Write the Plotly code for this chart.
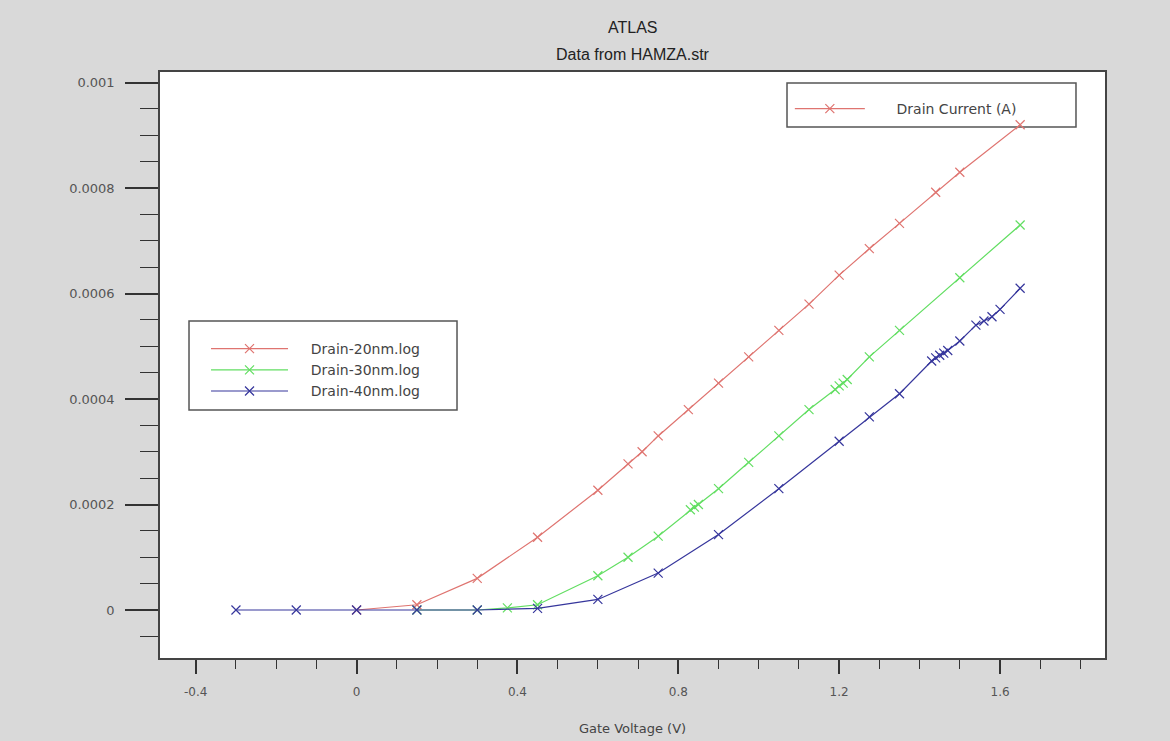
import plotly.graph_objects as go

# ---- data ----
x_20 = [0.0, 0.15, 0.3, 0.45, 0.6, 0.675, 0.71, 0.75, 0.825, 0.9, 0.975, 1.05, 1.125, 1.2, 1.275, 1.35, 1.44, 1.5, 1.65]
y_20 = [0.0, 0.00001, 0.00006, 0.000138, 0.000227, 0.000277, 0.0003, 0.00033, 0.00038, 0.00043, 0.00048,
        0.00053, 0.00058, 0.000635, 0.000685, 0.000733, 0.000792, 0.00083, 0.00092]

x_30 = [0.15, 0.3, 0.375, 0.45, 0.6, 0.675, 0.75, 0.83, 0.84, 0.85, 0.9, 0.975, 1.05, 1.125, 1.19, 1.2, 1.21, 1.22,
        1.275, 1.35, 1.5, 1.65]
y_30 = [0.0, 0.0, 0.000004, 0.00001, 0.000065, 0.0001, 0.00014, 0.00019, 0.000195, 0.0002, 0.00023, 0.00028,
        0.00033, 0.00038, 0.000418, 0.000425, 0.00043, 0.000437, 0.00048, 0.00053, 0.00063, 0.00073]

x_40 = [-0.3, -0.15, 0.0, 0.15, 0.3, 0.45, 0.6, 0.75, 0.9, 1.05, 1.2, 1.275, 1.35, 1.43, 1.44, 1.45, 1.46, 1.47,
        1.5, 1.54, 1.56, 1.58, 1.6, 1.65]
y_40 = [0.0, 0.0, 0.0, 0.0, 0.0, 0.000003, 0.00002, 0.00007, 0.000143, 0.00023, 0.00032, 0.000366, 0.00041,
        0.000472, 0.000478, 0.000483, 0.000487, 0.000492, 0.00051, 0.00054, 0.000548, 0.000556, 0.00057, 0.00061]

series_names = ["Drain-20nm.log", "Drain-30nm.log", "Drain-40nm.log"]
series_colors = ["#df7470", "#62de62", "#36369c"]
legend2_label = "Drain Current (A)"
title_lines = ["ATLAS", "Data from HAMZA.str"]
x_title = "Gate Voltage (V)"

y_tickvals = [0, 0.0002, 0.0004, 0.0006, 0.0008, 0.001]
y_ticktext = ["0", "0.0002", "0.0004", "0.0006", "0.0008", "0.001"]
x_tickvals = [-0.4, 0, 0.4, 0.8, 1.2, 1.6]
x_ticktext = ["-0.4", "0", "0.4", "0.8", "1.2", "1.6"]

SANS = "DejaVu Sans, Verdana, sans-serif"
TITLEF = "Liberation Sans, Arial, sans-serif"
NB = "\u00a0"

fig = go.Figure()
for xs, ys, name, col in zip([x_20, x_30, x_40], [y_20, y_30, y_40], series_names, series_colors):
    fig.add_trace(go.Scatter(
        x=xs, y=ys, name=NB * 4 + name, mode="lines+markers",
        line=dict(color=col, width=1.2),
        marker=dict(symbol="x-thin-open", size=9, line=dict(color=col, width=1.2)),
        legend="legend",
    ))

# legend-only entry for the second legend box
fig.add_trace(go.Scatter(
    x=[None], y=[None], name=NB * 6 + legend2_label,
    mode="lines+markers",
    line=dict(color=series_colors[0], width=1.2),
    marker=dict(symbol="x-thin-open", size=9, line=dict(color=series_colors[0], width=1.2)),
    legend="legend2",
))

axis_common = dict(
    showgrid=False, zeroline=False, showline=True, linecolor="#444", linewidth=1.5,
    mirror=True, ticks="outside", tickcolor="#333", automargin=False,
)

# legend frames (drawn as boxes, legends themselves are transparent)
fig.add_shape(type="rect", xref="paper", yref="paper", x0=0.0307, x1=0.3143, y0=0.4232, y1=0.5751,
              line=dict(color="#555", width=1.5), fillcolor="white", layer="below")
fig.add_shape(type="rect", xref="paper", yref="paper", x0=0.6635, x1=0.9693, y0=0.9061, y1=0.9812,
              line=dict(color="#555", width=1.5), fillcolor="white", layer="below")

# two-line title
fig.add_annotation(text=title_lines[0], xref="paper", yref="paper", x=0.5, y=1 + 45 / 586,
                   yanchor="middle", showarrow=False, font=dict(family=TITLEF, size=16, color="#222"))
fig.add_annotation(text=title_lines[1], xref="paper", yref="paper", x=0.5, y=1 + 17 / 586,
                   yanchor="middle", showarrow=False, font=dict(family=TITLEF, size=16, color="#222"))

fig.update_layout(
    width=1170, height=741,
    paper_bgcolor="#d9d9d9", plot_bgcolor="white",
    margin=dict(l=160, r=65, t=72, b=83),
    font=dict(family=SANS, color="#333"),
    xaxis=dict(**axis_common, range=[-0.4888, 1.861], tickvals=x_tickvals, ticktext=x_ticktext,
               ticklen=14, tickwidth=2, ticklabelstandoff=8,
               tickfont=dict(family=SANS, size=12, color="#555"),
               minor=dict(ticks="outside", dtick=0.1, tick0=0, ticklen=9, tickwidth=1, tickcolor="#333"),
               title=dict(text=x_title, font=dict(family=SANS, size=13, color="#444"), standoff=26)),
    yaxis=dict(**axis_common, range=[-0.000091, 0.00102], tickvals=y_tickvals, ticktext=y_ticktext,
               ticklen=33, tickwidth=2, ticklabelstandoff=8,
               tickfont=dict(family=SANS, size=13, color="#555"),
               minor=dict(ticks="outside", dtick=0.00005, tick0=0, ticklen=18, tickwidth=1, tickcolor="#333")),
    legend=dict(x=0.0487, y=0.5546, xanchor="left", yanchor="top", bgcolor="rgba(0,0,0,0)",
                borderwidth=0, itemwidth=77,
                font=dict(family=SANS, size=14, color="#444"), tracegroupgap=0),
    legend2=dict(x=0.6665, y=0.9642, xanchor="left", yanchor="top", bgcolor="rgba(0,0,0,0)",
                 borderwidth=0, itemwidth=70,
                 font=dict(family=SANS, size=14, color="#444")),
    showlegend=True,
)

fig.write_html("out.html")
